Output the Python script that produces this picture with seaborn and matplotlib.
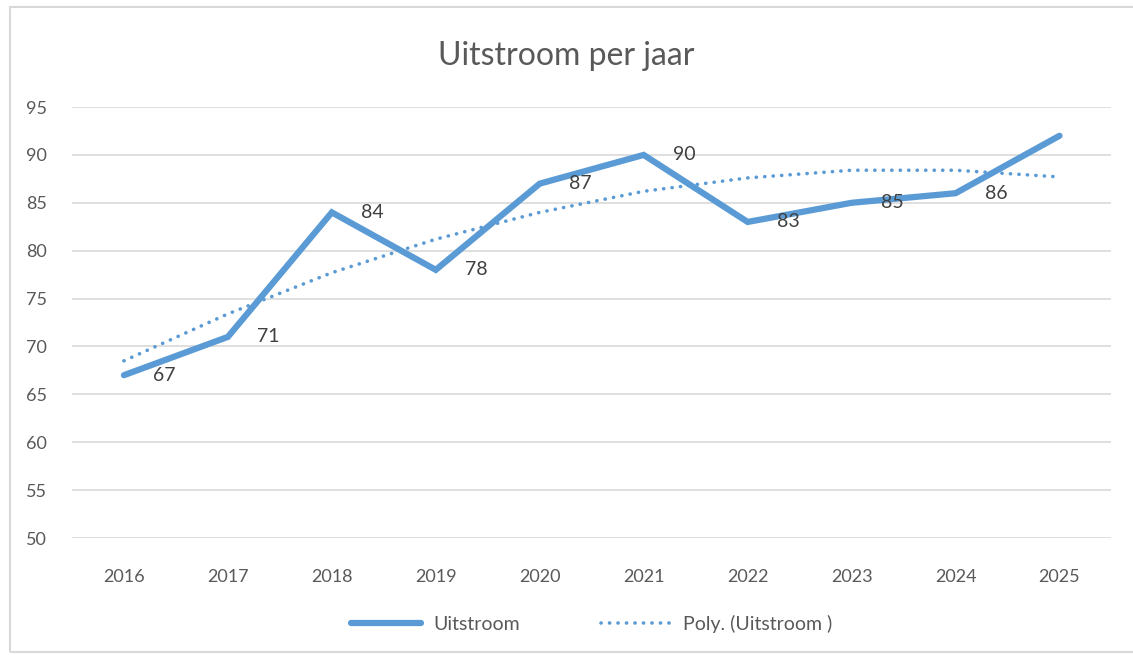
import pandas as pd
import matplotlib.pyplot as plt
from matplotlib.patches import Rectangle
import seaborn as sns

# data
jaren = ["2016", "2017", "2018", "2019", "2020", "2021", "2022", "2023", "2024", "2025"]
uitstroom = [67, 71, 84, 78, 87, 90, 83, 85, 86, 92]
label_waarden = [67, 71, 84, 78, 87, 90, 83, 85, 86, None]
poly_trend = [68.5, 73.4, 77.7, 81.2, 84.0, 86.2, 87.6, 88.4, 88.4, 87.7]

blauw = "#5B9BD5"
grijs = "#595959"

sns.set_style("white")
plt.rcParams["font.family"] = ["Lato", "DejaVu Sans"]

df = pd.DataFrame({"jaar": jaren, "uitstroom": uitstroom, "poly": poly_trend})
df["pos"] = range(len(jaren))

fig = plt.figure(figsize=(11.33, 6.55), dpi=100)
ax = fig.add_axes([0.0635, 0.1786, 0.9175, 0.658])

sns.lineplot(data=df, x="pos", y="uitstroom", ax=ax, color=blauw, linewidth=4.5,
             solid_capstyle="round", solid_joinstyle="miter", label="Uitstroom", zorder=3)
sns.lineplot(data=df, x="pos", y="poly", ax=ax, color=blauw, linewidth=2.6,
             linestyle=(0, (0.05, 2.3)), dash_capstyle="round",
             label="Poly. (Uitstroom )", zorder=2)

# data labels, right of the point
for i, v in enumerate(label_waarden):
    if v is None:
        continue
    ax.annotate(str(v), (i, uitstroom[i]), xytext=(21, 0), textcoords="offset points",
                ha="left", va="center", fontsize=14, color="#404040")

ax.set_xlim(-0.5, len(jaren) - 0.5)
ax.set_ylim(50, 95)
ax.set_yticks(range(50, 96, 5))
ax.set_xticks(df["pos"])
ax.set_xticklabels(jaren)
ax.tick_params(axis="both", length=0, labelsize=13, labelcolor=grijs)
ax.tick_params(axis="x", pad=22)
ax.tick_params(axis="y", pad=18)
ax.set_xlabel("")
ax.set_ylabel("")
ax.grid(axis="y", color="#D9D9D9", linewidth=1.2)
ax.set_axisbelow(True)
for s in ax.spines.values():
    s.set_visible(False)

fig.suptitle("Uitstroom per jaar", y=0.937, fontsize=23, color=grijs)

ax.legend(loc="center", bbox_to_anchor=(0.5, -0.2), ncol=2, frameon=False,
          fontsize=14, labelcolor=grijs, handlelength=3.6, columnspacing=4.2,
          handletextpad=0.6)

# light chart frame like Excel
fig.patches.append(Rectangle((10 / 1133, 3 / 655), 1.2, 645 / 655, transform=fig.transFigure,
                             fill=False, edgecolor="#D9D9D9", linewidth=1.5))

fig.savefig("out.png", dpi=100)
